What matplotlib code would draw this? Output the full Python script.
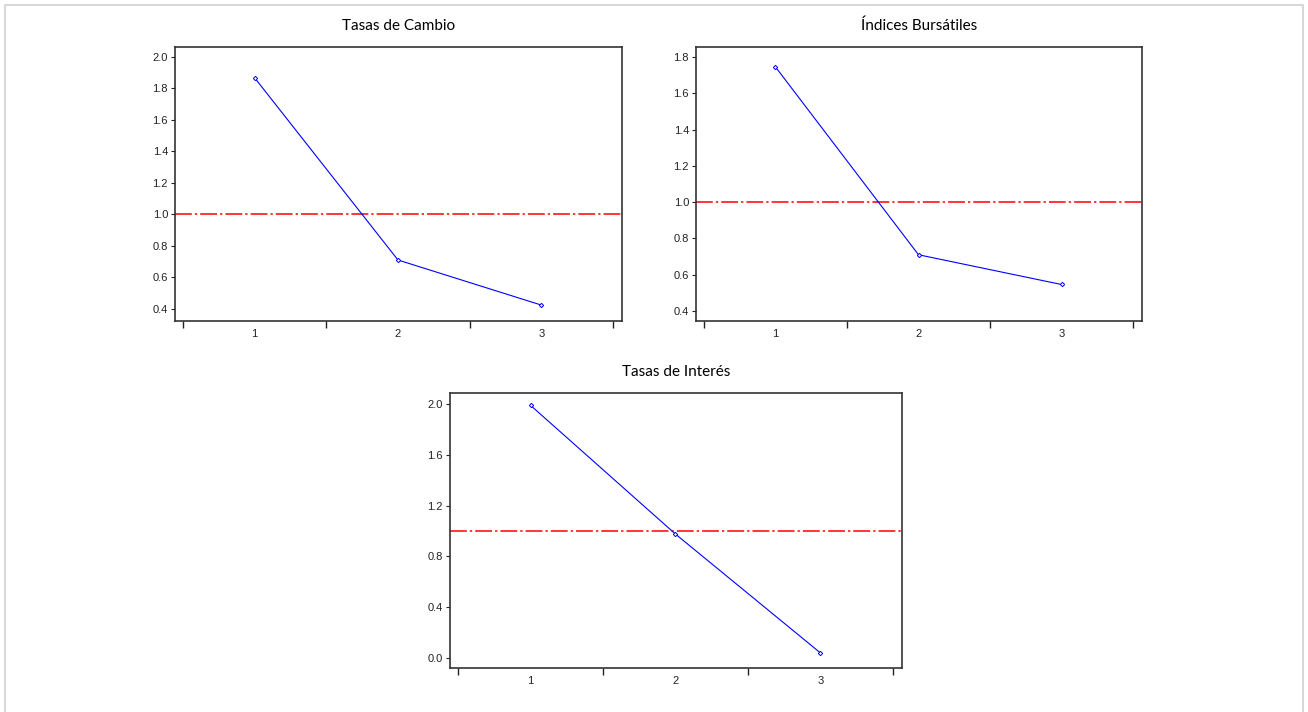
import numpy as np
import matplotlib
matplotlib.use("Agg")
import matplotlib.pyplot as plt
from matplotlib.patches import Rectangle

# data
x = [1, 2, 3]
tasas_cambio = [1.867, 0.711, 0.425]
indices_bursatiles = [1.745, 0.710, 0.546]
tasas_interes = [1.99, 0.976, 0.04]
titles = ["Tasas de Cambio", "Índices Bursátiles", "Tasas de Interés"]
ref_level = 1.0

plt.rcParams["font.family"] = ["Liberation Sans", "DejaVu Sans"]

fig = plt.figure(figsize=(13.08, 7.12), dpi=100)

# light screenshot border
fig.add_artist(Rectangle((0.004, -0.01), 0.992, 1.003, transform=fig.transFigure,
                         fill=False, edgecolor="#d0d0d0", lw=1.2))

panels = [
    ([0.1338, 0.5492, 0.3417, 0.3848], tasas_cambio, (0.324, 2.063), [0.4, 0.6, 0.8, 1.0, 1.2, 1.4, 1.6, 1.8, 2.0]),
    ([0.5321, 0.5492, 0.3410, 0.3848], indices_bursatiles, (0.345, 1.855), [0.4, 0.6, 0.8, 1.0, 1.2, 1.4, 1.6, 1.8]),
    ([0.3440, 0.0618, 0.3456, 0.3862], tasas_interes, (-0.079, 2.087), [0.0, 0.4, 0.8, 1.2, 1.6, 2.0]),
]

for (rect, y, ylim, yticks), title in zip(panels, titles):
    ax = fig.add_axes(rect)
    ax.axhline(ref_level, color="red", lw=1.1, linestyle=(0, (11, 2, 1.5, 2)))
    ax.plot(x, y, color="blue", lw=0.8, marker="D", markersize=2.2,
            markerfacecolor="white", markeredgecolor="blue", markeredgewidth=0.7)
    ax.set_xlim(0.444, 3.563)
    ax.set_ylim(*ylim)
    ax.set_yticks(yticks)
    ax.set_yticklabels([f"{v:.1f}" for v in yticks])
    ax.set_xticks([0.5, 1.5, 2.5, 3.5])
    ax.set_xticklabels([])
    ax.set_xticks(x, minor=True)
    ax.set_xticklabels([str(v) for v in x], minor=True)
    ax.tick_params(axis="x", which="major", direction="out", length=5, width=1, color="#222222")
    ax.tick_params(axis="x", which="minor", length=0, pad=6, labelsize=8, labelcolor="#222222")
    ax.tick_params(axis="y", direction="out", length=3, width=0.8, pad=2, labelsize=8,
                   labelcolor="#222222", color="#222222")
    for s in ax.spines.values():
        s.set_linewidth(1.2)
        s.set_color("#333333")
    ax.set_title(title, fontsize=11, family=["Lato", "DejaVu Sans"], pad=12)

fig.savefig("out.png", dpi=100)
